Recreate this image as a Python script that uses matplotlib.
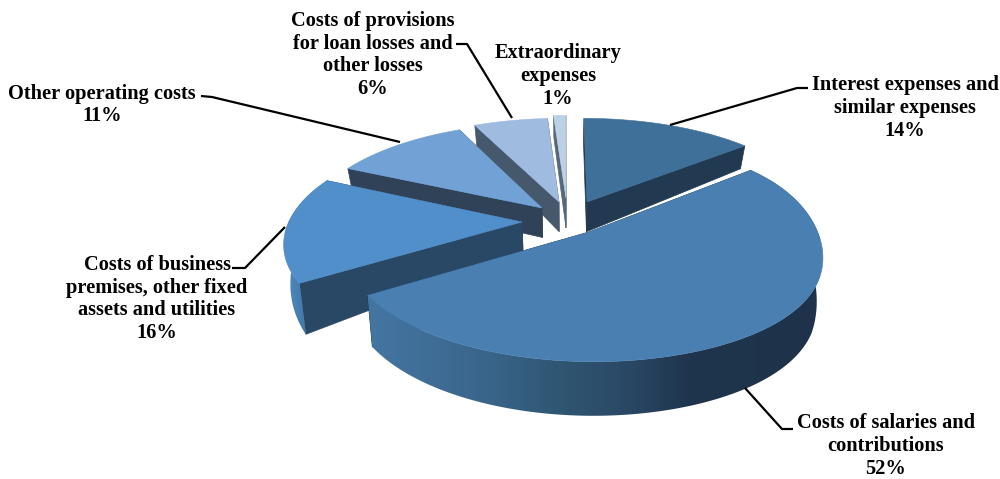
import numpy as np
import matplotlib
matplotlib.use("Agg")
import matplotlib.pyplot as plt
from matplotlib.colors import LinearSegmentedColormap
from matplotlib.patches import Polygon

categories = ["Interest expenses and\nsimilar expenses", "Costs of salaries and\ncontributions",
              "Costs of business\npremises, other fixed\nassets and utilities", "Other operating costs",
              "Costs of provisions\nfor loan losses and\nother losses", "Extraordinary\nexpenses"]
values = [14, 52, 16, 11, 6, 1]

# styling / layout
top_colors = ["#3f7099", "#4a7fb2", "#508fc9", "#72a2d5", "#9fbbe0", "#bcd0e6"]
radial_colors = ["#213a52", "#1e3349", "#284865", "#2f4258", "#46586c", "#56677c"]
apex_px = [(587, 202), (589, 232), (522, 222), (542, 208), (559, 202), (566, 198)]
flat_right = [0.0, 0.05, 0.0, 0.0, 0.0, 0.0]
flat_left = [0.0, 0.0, 0.015, 0.0, 0.0, 0.0]
draw_order = [5, 4, 3, 0, 2, 1]
label_xy = [(905, 108), (886, 446), (157, 299), (102, 105), (373, 55), (558, 76)]
leaders = [[(670, 125), (797, 88), (808, 88)], [(745, 388), (782, 429), (793, 429)],
           [(285, 227), (245, 268), (232, 268)], [(400, 142), (212, 97), (201, 96)],
           [(512, 118), (467, 44), (456, 44)]]
CX, CY, RX, RY, K, LEAN = 565, 225, 238, 105, 0.17, 0.024
depth_y = [-1.2, -1.05, -0.5, -0.2, 0.05, 0.3, 0.85, 1.3]
depth_d = [55, 54, 51, 40, 29, 30, 23, 22]
wall_x = [285, 305, 370, 480, 560, 620, 690, 820]
wall_c = ["#4d89bf", "#4278a8", "#4476a2", "#3b668c", "#2f5672", "#2b4a68", "#1f354d", "#1e3349"]


def proj(x, y):
    w = 1 + K * y
    return CX + RX * x / w, CY - RY * y / w


def plane_from_px(u, v):
    s = CY - v
    y = s / (RY - K * s)
    return (u - CX) * (1 + K * y) / RX, y


def bottom(u, v, y):
    return u + (CX - u) * LEAN, v + np.interp(y, depth_y, depth_d)


wall_cmap = LinearSegmentedColormap.from_list(
    "wall", [((x - wall_x[0]) / (wall_x[-1] - wall_x[0]), c) for x, c in zip(wall_x, wall_c)])

fig = plt.figure(figsize=(10, 4.79), dpi=100, facecolor="white")
ax = fig.add_axes([0, 0, 1, 1])
ax.axis("off")

fractions = np.array(values) / sum(values)
ends = np.pi / 2 - 2 * np.pi * np.cumsum(fractions)
starts = ends + 2 * np.pi * fractions

for z, i in enumerate(draw_order):
    ax0, ay0 = plane_from_px(*apex_px[i])
    ts = np.linspace(starts[i], ends[i], 160)
    c = np.cos(ts)
    squeeze = np.where(c > 0, flat_right[i], flat_left[i]) * c ** 4
    xs = ax0 + c * (1 - squeeze)
    ys = ay0 + np.sin(ts)
    u, v = proj(xs, ys)
    ub, vb = bottom(u, v, ys)
    a_u, a_v = proj(ax0, ay0)
    a_ub, a_vb = bottom(a_u, a_v, ay0)
    zo = 2 + z * 3
    # radial sides
    for e in (0, -1):
        ax.fill([a_u, u[e], ub[e], a_ub], [a_v, v[e], vb[e], a_vb],
                color=radial_colors[i], lw=0.5, zorder=zo)
    # outer wall, with a horizontal shading (only the two front slices show it)
    if i in (1, 2):
        im = ax.imshow(np.linspace(0, 1, 512)[None, :], cmap=wall_cmap, aspect="auto",
                       extent=(wall_x[0], wall_x[-1], 479, 0), zorder=zo + 1, vmin=0, vmax=1)
        poly = Polygon(np.c_[np.r_[u, ub[::-1]], np.r_[v, vb[::-1]]], closed=True, transform=ax.transData)
        im.set_clip_path(poly)
    # top face
    ax.fill(np.r_[a_u, u], np.r_[a_v, v], color=top_colors[i], lw=0.4, zorder=zo + 2)

ax.set_xlim(0, 1000)
ax.set_ylim(479, 0)

for pts in leaders:
    ax.plot(*zip(*pts), color="black", lw=1.6, zorder=30, solid_capstyle="butt")

for name, val, (x, y) in zip(categories, values, label_xy):
    ax.text(x, y, f"{name}\n{val}%", ha="center", va="center", family="Liberation Serif",
            weight="bold", fontsize=14.7, linespacing=1.17, color="black", zorder=40)

fig.savefig("out.png", dpi=100, facecolor="white")
